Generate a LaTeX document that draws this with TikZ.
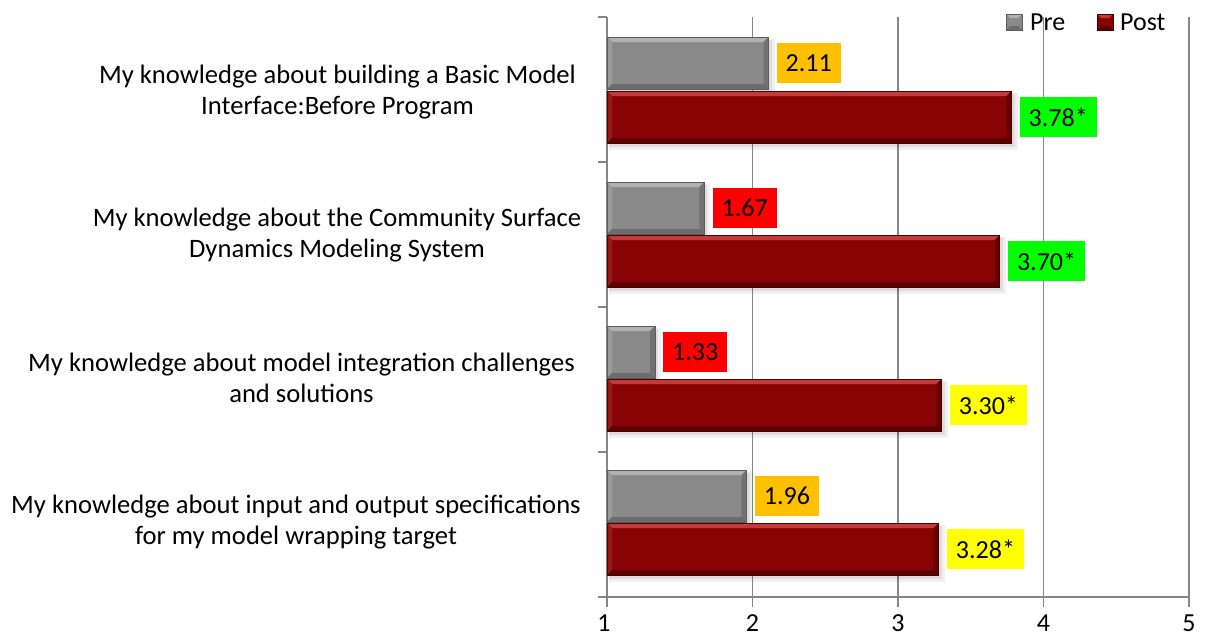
\documentclass[tikz,border=0pt]{standalone}
\usepackage{fontspec}
\setmainfont{Carlito}
\definecolor{gmain}{HTML}{898989}
\definecolor{gtop}{HTML}{B2B2B2}
\definecolor{gleft}{HTML}{9A9A9A}
\definecolor{gbot}{HTML}{6C6C6C}
\definecolor{gright}{HTML}{727272}
\definecolor{gbord}{HTML}{5C5C5C}
\definecolor{rmain}{HTML}{880404}
\definecolor{rtop}{HTML}{C23A3A}
\definecolor{rleft}{HTML}{9C1616}
\definecolor{rbot}{HTML}{5C0000}
\definecolor{rright}{HTML}{650000}
\definecolor{rbord}{HTML}{4A0000}
\definecolor{gridc}{HTML}{868686}
\definecolor{lorange}{HTML}{FFC000}
\definecolor{lgreen}{HTML}{00FF00}
\definecolor{lred}{HTML}{FF0000}
\definecolor{lyellow}{HTML}{FFFF00}
\newcommand\mybar[4]{% #1 ytop, #2 value, #3 colour prefix, #4 name
  \pgfmathsetmacro\xe{607+(#2-1)*145.5}
  \pgfmathsetmacro\yb{#1+52}
  \fill[black,opacity=0.06] (609,#1+2) rectangle (\xe+6,\yb+7);
  \fill[black,opacity=0.08] (609,#1+3) rectangle (\xe+3,\yb+4);
  \fill[#3main] (607,#1) rectangle (\xe,\yb);
  \fill[#3top] (607,#1) -- (\xe,#1) -- (\xe-5,#1+5) -- (612,#1+5) -- cycle;
  \fill[#3left] (607,#1) -- (612,#1+5) -- (612,\yb-5) -- (607,\yb) -- cycle;
  \fill[#3bot] (607,\yb) -- (\xe,\yb) -- (\xe-5,\yb-5) -- (612,\yb-5) -- cycle;
  \fill[#3right] (\xe,#1) -- (\xe,\yb) -- (\xe-5,\yb-5) -- (\xe-5,#1+5) -- cycle;
  \draw[#3bord,line width=0.8pt] (607,#1) rectangle (\xe,\yb);
  \coordinate (#4) at (\xe,#1+26);
}
\begin{document}
\begin{tikzpicture}[x=1pt,y=-1pt,
  grid/.style={gridc,line width=1.3pt},
  cat/.style={align=center,font=\fontsize{26.6}{30.5}\selectfont,inner sep=0pt},
  val/.style={anchor=west,font=\fontsize{26}{30}\selectfont,inner xsep=9pt,inner ysep=0pt,minimum height=40pt,text depth=0pt},
  tick/.style={font=\fontsize{26}{30}\selectfont,inner sep=0pt},
  leg/.style={font=\fontsize{26}{30}\selectfont,inner sep=0pt,anchor=west}]
\useasboundingbox (0,0) rectangle (1208,637);
% gridlines
\foreach \v/\n in {2/g2,3/g3,4/g4,5/g5}{
  \pgfmathsetmacro\gx{607+(\v-1)*145.5}
  \draw[grid] (\gx,17) -- (\gx,607);
  \node[tick] (t\n) at (\gx,623) {\v};
}
\node[tick] (tg1) at (604,623) {1};
% axes
\draw[grid] (607,17) -- (607,607);
\draw[grid] (598,597) -- (1189,597);
\foreach \y in {17,162,307,452}{\draw[grid] (598,\y) -- (607,\y);}
% bars
\mybar{37}{2.11}{g}{p1}
\mybar{91}{3.78}{r}{q1}
\mybar{182}{1.67}{g}{p2}
\mybar{235}{3.70}{r}{q2}
\mybar{326}{1.33}{g}{p3}
\mybar{379}{3.30}{r}{q3}
\mybar{470}{1.96}{g}{p4}
\mybar{523}{3.28}{r}{q4}
% value labels
\node[val,fill=lorange] (l1) at ([xshift=8]p1) {2.11};
\node[val,fill=lgreen] (m1) at ([xshift=8]q1) {3.78*};
\node[val,fill=lred] (l2) at ([xshift=8]p2) {1.67};
\node[val,fill=lgreen] (m2) at ([xshift=8]q2) {3.70*};
\node[val,fill=lred] (l3) at ([xshift=8]p3) {1.33};
\node[val,fill=lyellow] (m3) at ([xshift=8]q3) {3.30*};
\node[val,fill=lorange] (l4) at ([xshift=8]p4) {1.96};
\node[val,fill=lyellow] (m4) at ([xshift=8]q4) {3.28*};
% category labels
\node[cat] (c1) at (337.5,92) {My knowledge about building a Basic Model\\Interface:Before Program};
\node[cat] (c2) at (337,235) {My knowledge about the Community Surface\\Dynamics Modeling System};
\node[cat] (c3) at (301.5,378) {My knowledge about model integration challenges\\and solutions};
\node[cat] (c4) at (296,522) {My knowledge about input and output specifications\\for my model wrapping target};
% legend
\fill[gmain] (1006,14) rectangle (1022,30);
\fill[gtop] (1006,14) -- (1022,14) -- (1018,18) -- (1010,18) -- cycle;
\fill[gbot] (1006,30) -- (1022,30) -- (1018,26) -- (1010,26) -- cycle;
\draw[gbord,line width=0.6pt] (1006,14) rectangle (1022,30);
\node[leg] (lpre) at (1030,22) {Pre};
\fill[rmain] (1097,14) rectangle (1113,30);
\fill[rtop] (1097,14) -- (1113,14) -- (1109,18) -- (1101,18) -- cycle;
\fill[rbot] (1097,30) -- (1113,30) -- (1109,26) -- (1101,26) -- cycle;
\draw[rbord,line width=0.6pt] (1097,14) rectangle (1113,30);
\node[leg] (lpost) at (1120,22) {Post};
\end{tikzpicture}
\end{document}
